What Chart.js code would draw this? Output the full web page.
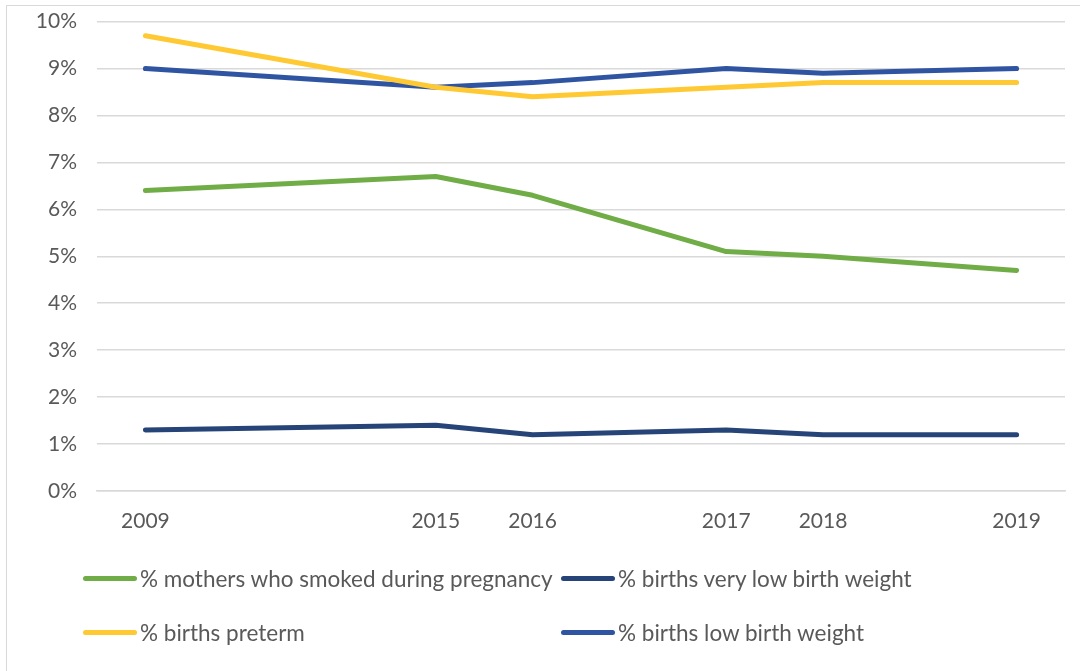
<!DOCTYPE html>
<html>
<head>
<meta charset="utf-8">
<script src="https://cdn.jsdelivr.net/npm/chart.js@4.4.1/dist/chart.umd.min.js"></script>
<style>
    html, body { margin: 0; padding: 0; background: #fff; overflow: hidden; }
    body { width: 1080px; height: 671px; position: relative; font-family: 'Lato', 'Open Sans', sans-serif; }
    #frame { position: absolute; left: 6px; top: 5px; width: 1100px; height: 700px; border: 1px solid #d9d9d9; box-sizing: border-box; }
    #chartBox { position: absolute; left: 0; top: -11px; width: 1080px; height: 556px; }
    #legend { position: absolute; left: 0; top: 0; width: 1080px; height: 671px; pointer-events: none; }
    .leg-item { position: absolute; display: flex; align-items: center; color: #595959; font-size: 22.5px; white-space: nowrap; }
    .leg-swatch { width: 54px; height: 5px; border-radius: 3px; margin-right: 3px; }
</style>
</head>
<body>
<div id="frame"></div>
<div id="chartBox"><canvas id="healthChart"></canvas></div>
<div id="legend"></div>
<script>
// categories (blank slots keep the uneven spacing of the original axis)
const years = ['2009', '', '', '2015', '2016', '', '2017', '2018', '', '2019'];

// series values in %
const smokedPregnancy = [6.4, null, null, 6.7, 6.3, null, 5.1, 5.0, null, 4.7];
const veryLowWeight   = [1.3, null, null, 1.4, 1.2, null, 1.3, 1.2, null, 1.2];
const preterm         = [9.7, null, null, 8.6, 8.4, null, 8.6, 8.7, null, 8.7];
const lowWeight       = [9.0, null, null, 8.6, 8.7, null, 9.0, 8.9, null, 9.0];

const seriesNames = [
    '% mothers who smoked during pregnancy',
    '% births very low birth weight',
    '% births preterm',
    '% births low birth weight'
];
const seriesColors = ['#70AD47', '#264478', '#FFC933', '#2F55A2'];

const yTicks = [0, 1, 2, 3, 4, 5, 6, 7, 8, 9, 10];

const textColor = '#595959';
const gridColor = '#d9d9d9';

function makeSet(idx, values) {
    return {
        label: seriesNames[idx],
        data: values,
        borderColor: seriesColors[idx],
        backgroundColor: seriesColors[idx],
        borderWidth: 5,
        borderCapStyle: 'round',
        borderJoinStyle: 'round',
        pointRadius: 0,
        tension: 0,
        spanGaps: true
    };
}

const chart = new Chart(document.getElementById('healthChart'), {
    type: 'line',
    data: {
        labels: years,
        datasets: [
            makeSet(0, smokedPregnancy),
            makeSet(1, veryLowWeight),
            makeSet(2, preterm),
            makeSet(3, lowWeight)
        ]
    },
    options: {
        responsive: true,
        maintainAspectRatio: false,
        animation: false,
        layout: { padding: { top: 11, right: 15, left: 0, bottom: 0 } },
        plugins: {
            legend: { display: false },
            tooltip: { enabled: false }
        },
        scales: {
            x: {
                offset: true,
                grid: { display: false, drawTicks: false },
                border: { display: true, color: gridColor, width: 1.5 },
                ticks: {
                    color: textColor,
                    font: { family: 'Lato', size: 21 },
                    padding: 18,
                    autoSkip: false,
                    maxRotation: 0
                },
                afterFit: (s) => { s.height = 54; }
            },
            y: {
                min: 0,
                max: 10,
                afterBuildTicks: (s) => { s.ticks = yTicks.map(v => ({ value: v })); },
                grid: { color: gridColor, lineWidth: 1.5, drawTicks: false },
                border: { display: false },
                ticks: {
                    color: textColor,
                    font: { family: 'Lato', size: 21 },
                    padding: 20,
                    callback: (v) => v + '%'
                },
                afterFit: (s) => { s.width = 97; }
            }
        }
    }
});

// HTML legend laid out in a 2x2 grid like the original
const legendEl = document.getElementById('legend');
const legendPos = [[83, 578], [561, 578], [83, 632], [561, 632]];
chart.data.datasets.forEach((ds, i) => {
    let item = document.createElement('div');
    item.className = 'leg-item';
    item.style.left = legendPos[i][0] + 'px';
    item.style.top = (legendPos[i][1] - 14) + 'px';
    item.style.height = '28px';
    item.innerHTML = `<span class="leg-swatch" style="background:${ds.borderColor}"></span><span>${ds.label}</span>`;
    legendEl.appendChild(item);
});
</script>
</body>
</html>
